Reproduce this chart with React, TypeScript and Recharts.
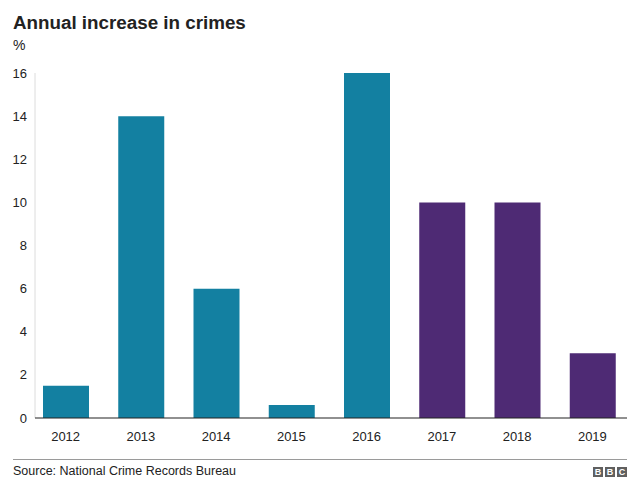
import React from 'react';
import { BarChart, Bar, XAxis, YAxis, Cell } from 'recharts';

// Annual increase in recorded crimes, per cent
const years = ['2012', '2013', '2014', '2015', '2016', '2017', '2018', '2019'];
const increasePct = [1.5, 14, 6, 0.6, 16, 10, 10, 3];
const yTicks = [0, 2, 4, 6, 8, 10, 12, 14, 16];
const laterPeriodFrom = 2017;

const TEAL = '#1380A1';
const PURPLE = '#4E2A74';
const FONT = '"Liberation Sans", Arial, Helvetica, sans-serif';

const data = years.map((year, i) => ({ year, value: increasePct[i] }));

const BbcBlocks = () => (
  <div style={{ position: 'absolute', left: 593, top: 467, display: 'flex', gap: 2 }}>
    {['B', 'B', 'C'].map((ch, i) => (
      <div
        key={i}
        style={{
          width: 10,
          height: 10,
          background: '#606060',
          color: '#fff',
          fontFamily: FONT,
          fontWeight: 700,
          fontSize: 9,
          lineHeight: '10px',
          textAlign: 'center',
        }}
      >
        {ch}
      </div>
    ))}
  </div>
);

export default function App() {
  return (
    <div
      style={{
        position: 'absolute',
        left: 0,
        top: 0,
        width: 640,
        height: 494,
        background: '#fff',
        fontFamily: FONT,
        color: '#222',
      }}
    >
      <BarChart
        width={640}
        height={494}
        data={data}
        margin={{ top: 73, right: 13, bottom: 46, left: 0 }}
        style={{ position: 'absolute', left: 0, top: 0 }}
      >
        <YAxis
          width={35}
          domain={[0, 16]}
          ticks={yTicks}
          interval={0}
          tickLine={false}
          axisLine={{ stroke: '#dcdcdc', strokeWidth: 1 }}
          tick={{ fill: '#222', fontSize: 13, fontFamily: FONT }}
        />
        <XAxis
          dataKey="year"
          height={30}
          padding={{ left: -7, right: -3 }}
          tickLine={false}
          tickMargin={8}
          interval={0}
          axisLine={{ stroke: '#222', strokeWidth: 1.2 }}
          tick={{ fill: '#222', fontSize: 13, fontFamily: FONT }}
        />
        <Bar dataKey="value" barSize={46} isAnimationActive={false}>
          {data.map((d) => (
            <Cell key={d.year} fill={Number(d.year) >= laterPeriodFrom ? PURPLE : TEAL} />
          ))}
        </Bar>
      </BarChart>

      <div
        style={{
          position: 'absolute',
          left: 13,
          top: 14,
          fontSize: 18.8,
          lineHeight: '18.8px',
          fontWeight: 700,
          whiteSpace: 'nowrap',
        }}
      >
        Annual increase in crimes
      </div>
      <div style={{ position: 'absolute', left: 13, top: 38, fontSize: 14, lineHeight: '14px' }}>%</div>

      <div style={{ position: 'absolute', left: 13, top: 459, width: 614, height: 1, background: '#9a9a9a' }} />
      <div
        style={{
          position: 'absolute',
          left: 13,
          top: 464.5,
          fontSize: 12.5,
          lineHeight: '12.5px',
          whiteSpace: 'nowrap',
        }}
      >
        Source: National Crime Records Bureau
      </div>
      <BbcBlocks />
    </div>
  );
}
